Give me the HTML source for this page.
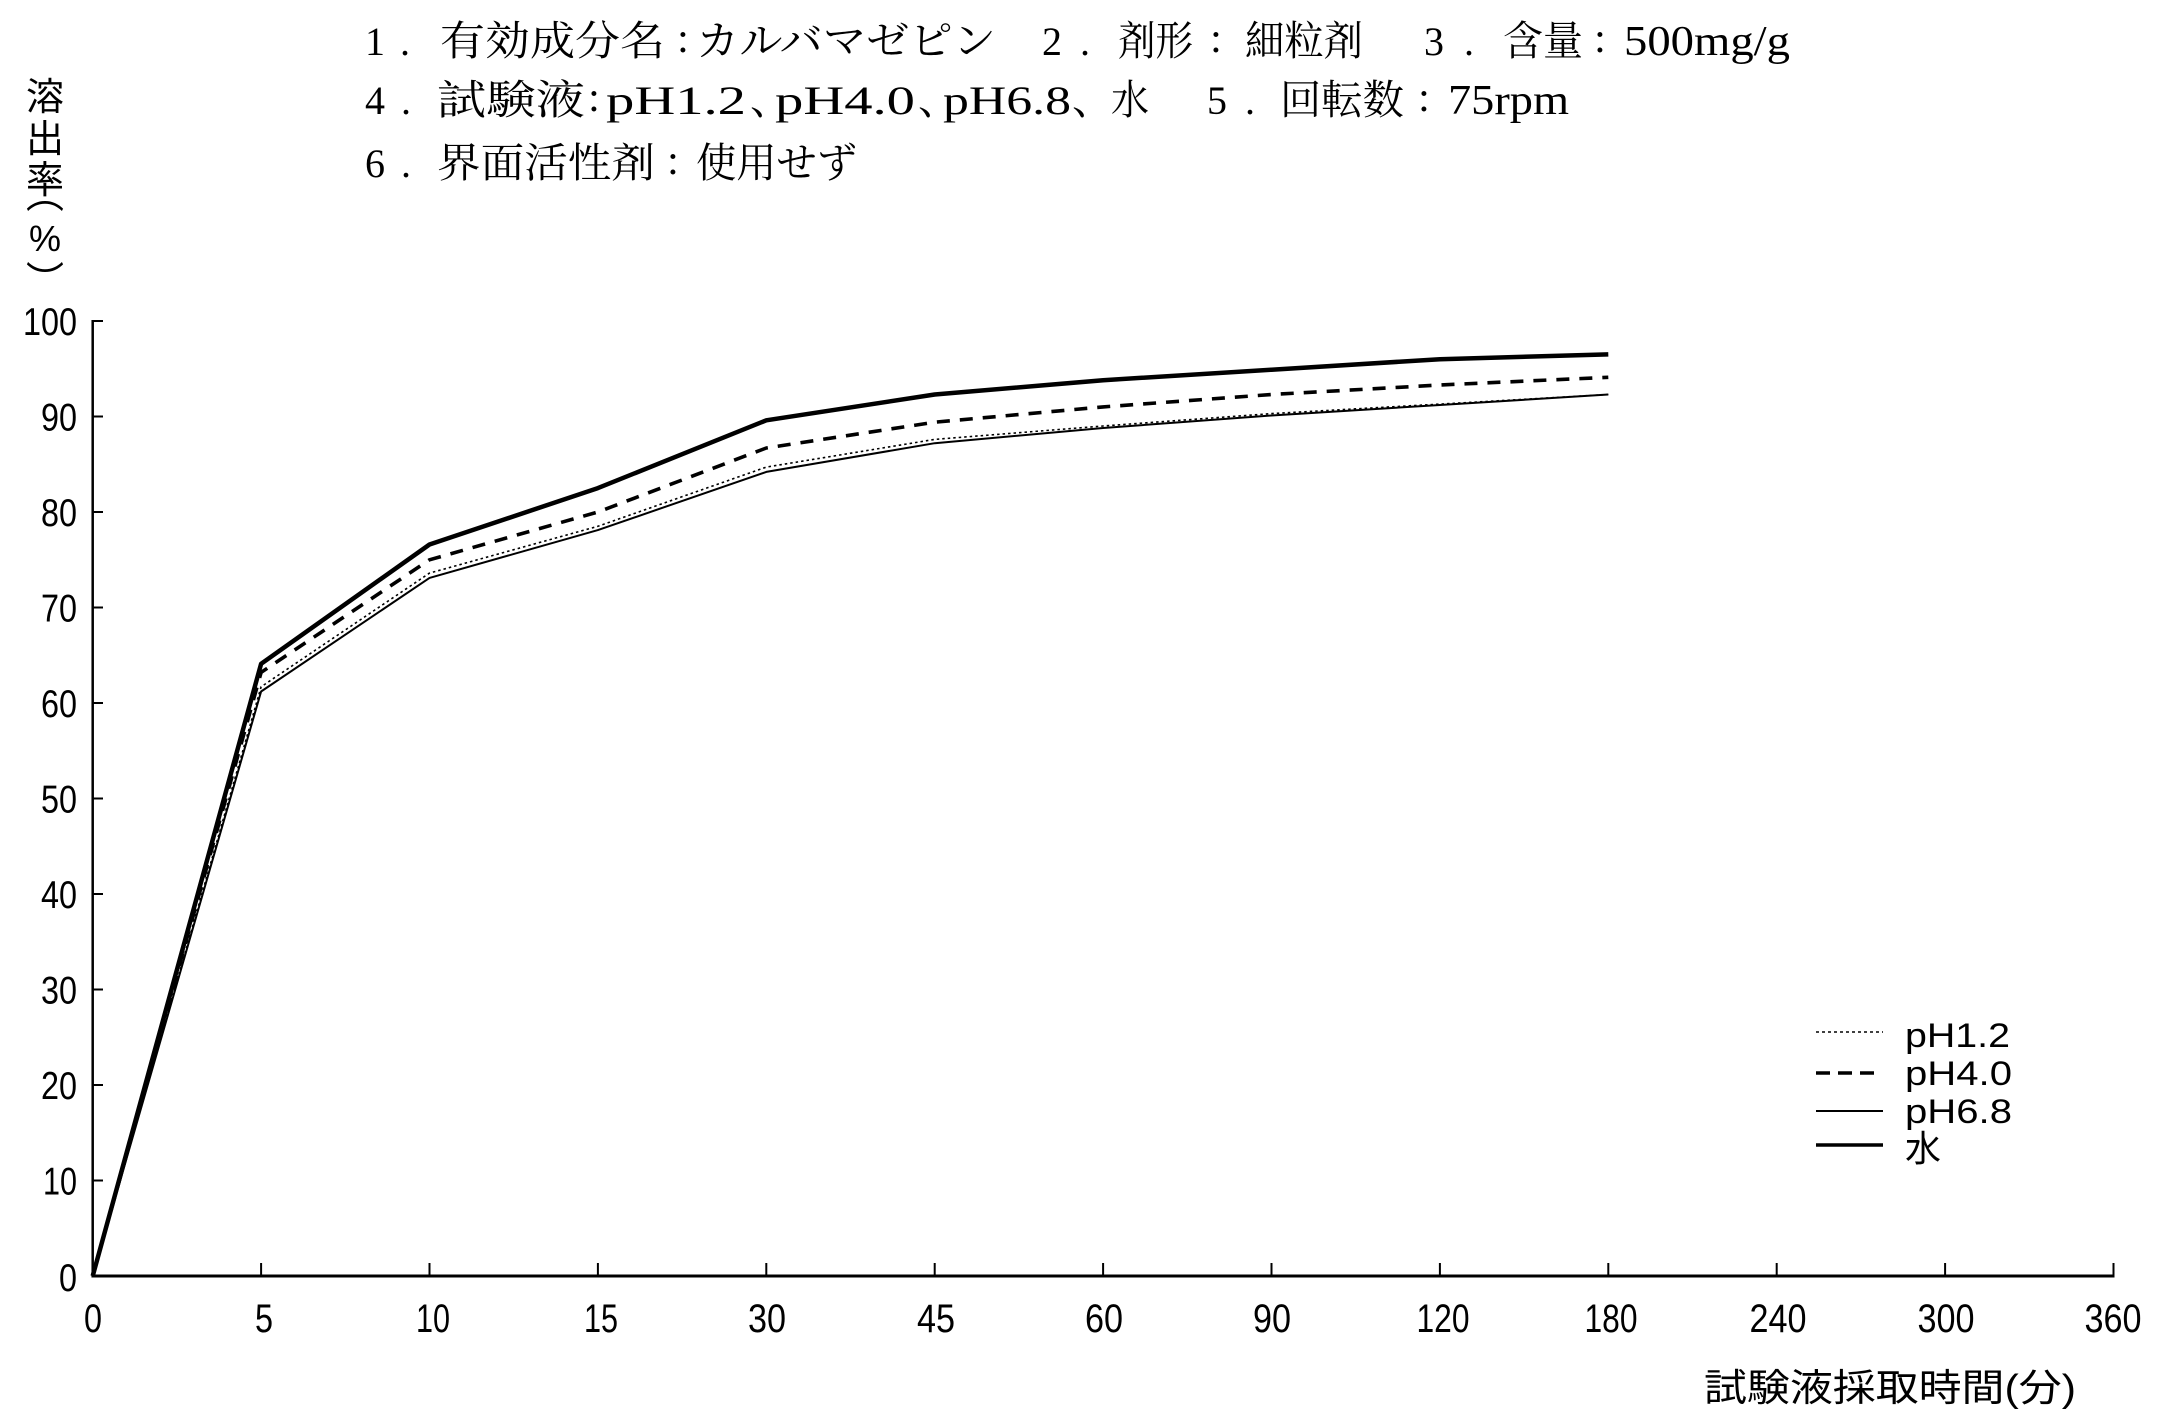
<!DOCTYPE html>
<html>
<head>
<meta charset="utf-8">
<style>
  html,body{margin:0;padding:0;background:#fff;}
  svg{display:block;}
  .t{font-family:"Liberation Serif","Noto Serif CJK SC",serif;fill:#000;}
  .tl{font-family:"Liberation Serif",serif;fill:#000;}
  .g{font-family:"Liberation Sans","Noto Sans CJK JP",sans-serif;fill:#000;}
  .cj{font-family:"Noto Sans CJK JP",sans-serif;fill:#000;}
  .n{font-family:"Liberation Sans",sans-serif;fill:#000;}
</style>
</head>
<body>
<svg width="2160" height="1417" viewBox="0 0 2160 1417" xmlns="http://www.w3.org/2000/svg">
  <rect width="2160" height="1417" fill="#fff"/>

  <!-- Title line 1 -->
  <g class="t" font-size="41">
    <text class="tl" x="365" y="55" font-size="40">1</text>
    <text class="tl" x="400" y="55" font-size="40">.</text>
    <text x="440" y="55" textLength="225" lengthAdjust="spacingAndGlyphs">有効成分名</text>
    <text class="tl" x="683" y="52" font-size="42" text-anchor="middle">:</text>
    <text x="696" y="55" textLength="300" lengthAdjust="spacingAndGlyphs">カルバマゼピン</text>
    <text class="tl" x="1042" y="55" font-size="40">2</text>
    <text class="tl" x="1080" y="55" font-size="40">.</text>
    <text x="1118" y="55" textLength="75" lengthAdjust="spacingAndGlyphs">剤形</text>
    <text class="tl" x="1216" y="52" font-size="42" text-anchor="middle">:</text>
    <text x="1245" y="55" textLength="118" lengthAdjust="spacingAndGlyphs">細粒剤</text>
    <text class="tl" x="1424" y="55" font-size="40">3</text>
    <text class="tl" x="1464" y="55" font-size="40">.</text>
    <text x="1503" y="55" textLength="80" lengthAdjust="spacingAndGlyphs">含量</text>
    <text class="tl" x="1600" y="52" font-size="42" text-anchor="middle">:</text>
    <text class="tl" x="1624" y="55" font-size="42" textLength="166" lengthAdjust="spacingAndGlyphs">500mg/g</text>
  </g>

  <!-- Title line 2 -->
  <g class="t" font-size="41">
    <text class="tl" x="365" y="114" font-size="40">4</text>
    <text class="tl" x="401" y="114" font-size="40">.</text>
    <text x="437" y="114" textLength="148" lengthAdjust="spacingAndGlyphs">試験液</text>
    <text class="tl" x="594" y="111" font-size="42" text-anchor="middle">:</text>
    <text class="tl" x="606" y="114" font-size="40" textLength="140" lengthAdjust="spacingAndGlyphs">pH1.2</text>
    <text x="750" y="114">、</text>
    <text class="tl" x="775" y="114" font-size="40" textLength="140" lengthAdjust="spacingAndGlyphs">pH4.0</text>
    <text x="918" y="114">、</text>
    <text class="tl" x="943" y="114" font-size="40" textLength="128" lengthAdjust="spacingAndGlyphs">pH6.8</text>
    <text x="1072" y="114">、</text>
    <text x="1111" y="114" textLength="38" lengthAdjust="spacingAndGlyphs">水</text>
    <text class="tl" x="1207" y="114" font-size="40">5</text>
    <text class="tl" x="1245" y="114" font-size="40">.</text>
    <text x="1280" y="114" textLength="124" lengthAdjust="spacingAndGlyphs">回転数</text>
    <text class="tl" x="1424" y="111" font-size="42" text-anchor="middle">:</text>
    <text class="tl" x="1448" y="114" font-size="42" textLength="121" lengthAdjust="spacingAndGlyphs">75rpm</text>
  </g>

  <!-- Title line 3 -->
  <g class="t" font-size="41">
    <text class="tl" x="365" y="177" font-size="40">6</text>
    <text class="tl" x="401" y="177" font-size="40">.</text>
    <text x="437" y="177" textLength="218" lengthAdjust="spacingAndGlyphs">界面活性剤</text>
    <text class="tl" x="673" y="174" font-size="42" text-anchor="middle">:</text>
    <text x="696" y="177" textLength="161" lengthAdjust="spacingAndGlyphs">使用せず</text>
  </g>

  <!-- Y axis label (vertical) -->
  <g class="g" font-size="38" text-anchor="middle">
    <text x="45" y="110">溶</text>
    <text x="45" y="152">出</text>
    <text x="45" y="193">率</text>
    <text class="cj" x="45" y="208">︵</text>
    <text x="45" y="251" font-size="36">%</text>
    <text class="cj" x="45" y="294">︶</text>
  </g>

  <!-- Axes -->
  <g stroke="#000" fill="none">
    <line x1="92.7" y1="320" x2="92.7" y2="1277.5" stroke-width="2.5"/>
    <line x1="91.5" y1="1276" x2="2114.5" y2="1276" stroke-width="3"/>
    <g stroke-width="2">
      <line x1="92.7" y1="321" x2="103" y2="321"/>
      <line x1="92.7" y1="416.5" x2="103" y2="416.5"/>
      <line x1="92.7" y1="512" x2="103" y2="512"/>
      <line x1="92.7" y1="607.5" x2="103" y2="607.5"/>
      <line x1="92.7" y1="703" x2="103" y2="703"/>
      <line x1="92.7" y1="798.5" x2="103" y2="798.5"/>
      <line x1="92.7" y1="894" x2="103" y2="894"/>
      <line x1="92.7" y1="989.5" x2="103" y2="989.5"/>
      <line x1="92.7" y1="1085" x2="103" y2="1085"/>
      <line x1="92.7" y1="1180.5" x2="103" y2="1180.5"/>
    </g>
    <g stroke-width="2">
      <line x1="261.1" y1="1263" x2="261.1" y2="1276"/>
      <line x1="429.5" y1="1263" x2="429.5" y2="1276"/>
      <line x1="597.9" y1="1263" x2="597.9" y2="1276"/>
      <line x1="766.3" y1="1263" x2="766.3" y2="1276"/>
      <line x1="934.7" y1="1263" x2="934.7" y2="1276"/>
      <line x1="1103.1" y1="1263" x2="1103.1" y2="1276"/>
      <line x1="1271.5" y1="1263" x2="1271.5" y2="1276"/>
      <line x1="1439.9" y1="1263" x2="1439.9" y2="1276"/>
      <line x1="1608.3" y1="1263" x2="1608.3" y2="1276"/>
      <line x1="1776.7" y1="1263" x2="1776.7" y2="1276"/>
      <line x1="1945.1" y1="1263" x2="1945.1" y2="1276"/>
      <line x1="2113.5" y1="1263" x2="2113.5" y2="1277"/>
    </g>
  </g>

  <!-- Y tick labels -->
  <g class="n" font-size="39" text-anchor="end">
    <text x="77" y="335" textLength="54" lengthAdjust="spacingAndGlyphs">100</text>
    <text x="77" y="430.5" textLength="36" lengthAdjust="spacingAndGlyphs">90</text>
    <text x="77" y="526" textLength="36" lengthAdjust="spacingAndGlyphs">80</text>
    <text x="77" y="621.5" textLength="36" lengthAdjust="spacingAndGlyphs">70</text>
    <text x="77" y="717" textLength="36" lengthAdjust="spacingAndGlyphs">60</text>
    <text x="77" y="812.5" textLength="36" lengthAdjust="spacingAndGlyphs">50</text>
    <text x="77" y="908" textLength="36" lengthAdjust="spacingAndGlyphs">40</text>
    <text x="77" y="1003.5" textLength="36" lengthAdjust="spacingAndGlyphs">30</text>
    <text x="77" y="1099" textLength="36" lengthAdjust="spacingAndGlyphs">20</text>
    <text x="77" y="1194.5" textLength="34" lengthAdjust="spacingAndGlyphs">10</text>
    <text x="77" y="1291" textLength="18" lengthAdjust="spacingAndGlyphs">0</text>
  </g>

  <!-- X tick labels -->
  <g class="n" font-size="40" text-anchor="middle">
    <text x="93" y="1332" textLength="18" lengthAdjust="spacingAndGlyphs">0</text>
    <text x="264" y="1332" textLength="18" lengthAdjust="spacingAndGlyphs">5</text>
    <text x="433" y="1332" textLength="34" lengthAdjust="spacingAndGlyphs">10</text>
    <text x="601" y="1332" textLength="34" lengthAdjust="spacingAndGlyphs">15</text>
    <text x="767" y="1332" textLength="38" lengthAdjust="spacingAndGlyphs">30</text>
    <text x="936" y="1332" textLength="38" lengthAdjust="spacingAndGlyphs">45</text>
    <text x="1104" y="1332" textLength="38" lengthAdjust="spacingAndGlyphs">60</text>
    <text x="1272" y="1332" textLength="38" lengthAdjust="spacingAndGlyphs">90</text>
    <text x="1443" y="1332" textLength="53" lengthAdjust="spacingAndGlyphs">120</text>
    <text x="1611" y="1332" textLength="53" lengthAdjust="spacingAndGlyphs">180</text>
    <text x="1778" y="1332" textLength="57" lengthAdjust="spacingAndGlyphs">240</text>
    <text x="1946" y="1332" textLength="57" lengthAdjust="spacingAndGlyphs">300</text>
    <text x="2113" y="1332" textLength="57" lengthAdjust="spacingAndGlyphs">360</text>
  </g>

  <!-- X axis title -->
  <text class="g" x="1704" y="1401" font-size="38" textLength="372" lengthAdjust="spacingAndGlyphs">試験液採取時間(分)</text>

  <!-- Data series -->
  <g fill="none" stroke="#000" stroke-linejoin="round">
    <polyline stroke-width="2" points="92.7,1276 261.1,691.5 429.5,577.9 597.9,530.1 766.3,471.9 934.7,443.2 1103.1,428 1271.5,415.5 1439.9,405 1608.3,394.5"/>
    <polyline stroke-width="1.6" stroke-dasharray="2.5 3" points="92.7,1276 261.1,686.8 429.5,573.1 597.9,526.3 766.3,467.1 934.7,439.4 1103.1,426 1271.5,413.6 1439.9,404.1 1608.3,394.5"/>
    <polyline stroke-width="3.6" stroke-dasharray="13 10" points="92.7,1276 261.1,672.4 429.5,559.8 597.9,512 766.3,448 934.7,422.2 1103.1,406.9 1271.5,394.5 1439.9,385 1608.3,377.3"/>
    <polyline stroke-width="4.5" points="92.7,1276 261.1,663.8 429.5,544.5 597.9,488.1 766.3,420.3 934.7,394.5 1103.1,380.2 1271.5,369.7 1439.9,359.2 1608.3,354.4"/>
  </g>

  <!-- Legend -->
  <g stroke="#000" fill="none">
    <line x1="1816" y1="1032" x2="1883" y2="1032" stroke-width="1.6" stroke-dasharray="3 3"/>
    <line x1="1816" y1="1073" x2="1874" y2="1073" stroke-width="3.5" stroke-dasharray="14 8"/>
    <line x1="1816" y1="1111" x2="1883" y2="1111" stroke-width="2"/>
    <line x1="1816" y1="1145" x2="1883" y2="1145" stroke-width="3.5"/>
  </g>
  <g class="g" font-size="34">
    <text x="1905" y="1047" textLength="105" lengthAdjust="spacingAndGlyphs">pH1.2</text>
    <text x="1905" y="1085" textLength="107" lengthAdjust="spacingAndGlyphs">pH4.0</text>
    <text x="1905" y="1123" textLength="107" lengthAdjust="spacingAndGlyphs">pH6.8</text>
    <text x="1905" y="1161" font-size="36" textLength="36" lengthAdjust="spacingAndGlyphs">水</text>
  </g>
</svg>
</body>
</html>
